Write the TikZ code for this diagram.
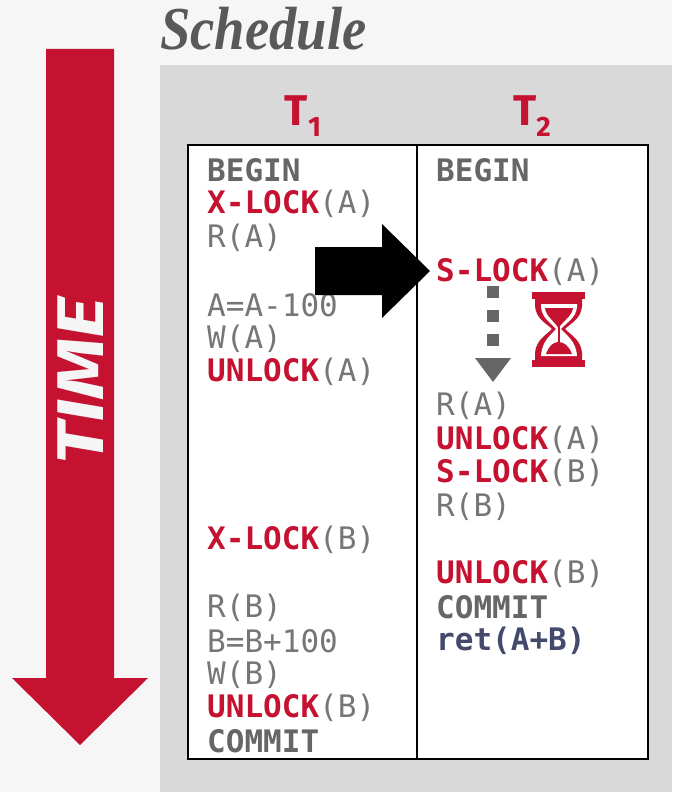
\documentclass[tikz,border=0pt]{standalone}
\usepackage{fontspec}
\setmainfont{Fira Sans}
\setmonofont{DejaVu Sans Mono}
\newfontfamily\titlefont{Liberation Serif}
\definecolor{cmured}{HTML}{C41230}
\definecolor{codegray}{HTML}{767676}
\definecolor{boldgray}{HTML}{666666}
\definecolor{retblue}{HTML}{444A6B}
\newcommand{\kw}[1]{\textbf{\textcolor{cmured}{#1}}}
\newcommand{\ctl}[1]{\textbf{\textcolor{boldgray}{#1}}}
\tikzset{
    codeline/.style={anchor=west, inner sep=0pt, text=codegray, font=\fontsize{31}{31}\selectfont\ttfamily},
    txnlabel/.style={anchor=base, inner sep=0pt, text=cmured, font=\fontsize{43}{43}\selectfont\fontseries{sb}\selectfont},
}
\begin{document}
\begin{tikzpicture}[x=1pt, y=-1pt]
    \useasboundingbox (0,0) rectangle (672,792);

    % Background
    \fill[white!96.5!black] (0,0) rectangle (672,792);
    \fill[black!15] (160,65) rectangle (672,792);
    \node[anchor=base west, inner sep=0pt, xscale=0.895, text=black!65, font=\fontsize{61}{61}\selectfont\titlefont\bfseries\itshape] (title) at (160,49) {Schedule};

    % Time arrow
    \fill[cmured] (46,49) -- (114,49) -- (114,678) -- (148,678) -- (80,745) -- (12,678) -- (46,678) -- cycle;
    \node[rotate=90, inner sep=0pt, text=white!96!black, font=\fontsize{66}{66}\selectfont\bfseries\itshape] (time) at (81,381) {\scalebox{1.2}[1]{TIME}};

    % Table
    \draw[line width=1.6pt, fill=white] (188,145) rectangle (648,759);
    \draw[line width=1.6pt] (417,145) -- (417,759);

    % Column headers
    \node[txnlabel] (t1) at (303,125) {T\raisebox{-11pt}{\fontsize{28}{28}\selectfont 1}};
    \node[txnlabel] (t2) at (532,125) {T\raisebox{-11pt}{\fontsize{28}{28}\selectfont 2}};

    % T1 operations
    \foreach \n/\op in {0/\ctl{BEGIN}, 1/\kw{X-LOCK}(A), 2/R(A), 4/A=A-100, 5/W(A), 6/\kw{UNLOCK}(A),
        11/\kw{X-LOCK}(B), 13/R(B), 14/B=B+100, 15/W(B), 16/\kw{UNLOCK}(B), 17/\ctl{COMMIT}} {
        \node[codeline] (left\n) at (207,{170.5+33.6*\n}) {\op};
    }

    % T2 operations
    \foreach \n/\op in {0/\ctl{BEGIN}, 3/\kw{S-LOCK}(A), 7/R(A), 8/\kw{UNLOCK}(A), 9/\kw{S-LOCK}(B), 10/R(B),
        12/\kw{UNLOCK}(B), 13/\ctl{COMMIT}, 14/\textbf{\textcolor{retblue}{ret(A+B)}}} {
        \node[codeline] (right\n) at (436,{170.5+33.6*\n}) {\op};
    }

    % Current step
    \fill[black] (315,247) -- (382,247) -- (382,224) -- (430,271) -- (382,318) -- (382,295) -- (315,295) -- cycle;

    % Waiting arrow
    \foreach \y in {286,310,334} {
        \fill[boldgray] (487,\y) rectangle (499,\y+12);
    }
    \fill[boldgray] (475,358) -- (511,358) -- (493,382) -- cycle;

    % Hourglass
    \fill[cmured] (532,292) rectangle (585,299);
    \fill[cmured] (532,360) rectangle (585,367);
    \fill[cmured] (535,299) -- (535,306) .. controls (536,319) and (546,323) .. (552,329)
        .. controls (546,335) and (536,340) .. (535,353) -- (535,360) -- (582,360) -- (582,353)
        .. controls (581,340) and (571,335) .. (565,329)
        .. controls (571,323) and (581,319) .. (582,306) -- (582,299) -- cycle;
    \fill[white] (541,304) -- (577,304) -- (577,307) .. controls (576,318) and (567,322) .. (561,329)
        .. controls (567,336) and (576,341) .. (577,356) -- (541,356)
        .. controls (542,341) and (550,336) .. (556,329)
        .. controls (550,322) and (542,318) .. (541,307) -- cycle;
    \fill[cmured] (545,308) -- (573,308) .. controls (572,316) and (564,320) .. (558.5,328)
        .. controls (553,320) and (546,316) .. (545,308) -- cycle;
    \fill[cmured] (557.5,325) rectangle (559.5,345);
    \fill[cmured] (546,354) .. controls (549,346) and (553,342) .. (558.5,342)
        .. controls (564,342) and (569,346) .. (572,354) -- cycle;
\end{tikzpicture}
\end{document}
